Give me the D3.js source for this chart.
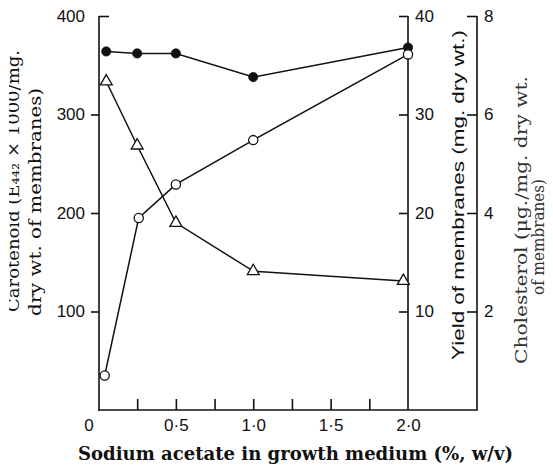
<!DOCTYPE html>
<html><head><meta charset="utf-8">
<script src="https://cdn.jsdelivr.net/npm/d3@7"></script>
<style>
html,body{margin:0;padding:0;background:#fff;}
svg{display:block;}
</style></head>
<body>
<svg id="chart" width="553" height="469"></svg>
<script>
// ---- data ----
const acetate = [0.05, 0.25, 0.5, 1.0, 2.0];           // % w/v
const carotenoid = [364, 362, 362, 338, 368];          // E442 x 1000 / mg (filled circles, left axis)
const yieldX = [0.04, 0.26, 0.5, 1.0, 2.0];
const yieldMg = [3.5, 19.5, 22.9, 27.4, 36.1];         // mg dry wt (open circles)
const cholX = [0.05, 0.25, 0.5, 1.0, 1.97];
const cholesterol = [6.67, 5.37, 3.8, 2.82, 2.62];     // ug/mg (triangles)
const xTickLabels = ["0", "0·5", "1·0", "1·5", "2·0"];
const xTickValues = [0, 0.5, 1.0, 1.5, 2.0];
const xMinorTicks = [0.25, 0.5, 0.75, 1.0, 1.25, 1.5, 1.75];
const leftTicks = [100, 200, 300, 400];
const yieldTicks = [10, 20, 30, 40];
const cholTicks = [2, 4, 6, 8];

const svg = d3.select("#chart");
const x = d3.scaleLinear().domain([0, 2]).range([98.5, 408]);
const yL = d3.scaleLinear().domain([0, 400]).range([410, 16]);
const yY = d3.scaleLinear().domain([0, 40]).range([410, 16]);
const yC = d3.scaleLinear().domain([0, 8]).range([410, 16]);

const tickFont = "'Liberation Sans', Arial, sans-serif";
const serif = "'DejaVu Serif', serif";
const ink = "#111";

// axis frame lines
const axisG = svg.append("g").attr("stroke", ink).attr("stroke-width", 1.6).attr("fill", "none");
axisG.append("line").attr("x1", 99).attr("x2", 99).attr("y1", yL(400)).attr("y2", 410.8);
axisG.append("line").attr("x1", 98.2).attr("x2", 477.8).attr("y1", 410).attr("y2", 410);
axisG.append("line").attr("x1", 408).attr("x2", 408).attr("y1", yY(40)).attr("y2", 410);
axisG.append("line").attr("x1", 477).attr("x2", 477).attr("y1", yC(8)).attr("y2", 410);

// left axis
const gl = svg.append("g").attr("transform", "translate(99,0)")
  .call(d3.axisLeft(yL).tickValues(leftTicks).tickSize(8).tickPadding(6).tickFormat(d3.format("d")));
gl.select(".domain").remove();
gl.selectAll(".tick line").attr("stroke", ink).attr("stroke-width", 1.6)
  .filter(d => d === 400).attr("x2", 10);
gl.selectAll(".tick text").attr("font-family", tickFont).attr("font-size", 17).attr("fill", ink);

// bottom axis (minor ticks pointing up, labels at major positions)
const gb = svg.append("g").attr("transform", "translate(0,410)")
  .call(d3.axisTop(x).tickValues(xMinorTicks).tickSize(11).tickFormat(""));
gb.select(".domain").remove();
gb.selectAll(".tick line").attr("stroke", ink).attr("stroke-width", 1.6);
const gbl = svg.append("g").attr("transform", "translate(0,410)")
  .call(d3.axisBottom(x).tickValues(xTickValues).tickSize(0).tickPadding(9)
    .tickFormat((d, i) => xTickLabels[i]));
gbl.select(".domain").remove();
gbl.selectAll(".tick text").attr("font-family", tickFont).attr("font-size", 17).attr("fill", ink)
  .attr("dx", (d, i) => i === 0 ? -10 : 0);

// yield axis
const gy = svg.append("g").attr("transform", "translate(408,0)")
  .call(d3.axisLeft(yY).tickValues(yieldTicks).tickSize(9).tickFormat(d3.format("d")));
gy.select(".domain").remove();
gy.selectAll(".tick line").attr("stroke", ink).attr("stroke-width", 1.6);
gy.selectAll(".tick text").attr("font-family", tickFont).attr("font-size", 17).attr("fill", ink)
  .attr("x", 7).attr("text-anchor", "start").attr("dy", "0.32em");

// cholesterol axis
const gc = svg.append("g").attr("transform", "translate(477,0)")
  .call(d3.axisLeft(yC).tickValues(cholTicks).tickSize(10).tickFormat(d3.format("d")));
gc.select(".domain").remove();
gc.selectAll(".tick line").attr("stroke", ink).attr("stroke-width", 1.6);
gc.selectAll(".tick text").attr("font-family", tickFont).attr("font-size", 17).attr("fill", ink)
  .attr("x", 7).attr("text-anchor", "start").attr("dy", "0.32em");

// series lines
const line = (xs, ys, xsc, ysc) => d3.line()(xs.map((v, i) => [xsc(v), ysc(ys[i])]));
svg.append("path").attr("d", line(acetate, carotenoid, x, yL))
  .attr("fill", "none").attr("stroke", ink).attr("stroke-width", 1.5);
svg.append("path").attr("d", line(yieldX, yieldMg, x, yY))
  .attr("fill", "none").attr("stroke", ink).attr("stroke-width", 1.5);
svg.append("path").attr("d", line(cholX, cholesterol, x, yC))
  .attr("fill", "none").attr("stroke", ink).attr("stroke-width", 1.5);

// markers
svg.append("g").selectAll("circle").data(acetate).join("circle")
  .attr("cx", d => x(d)).attr("cy", (d, i) => yL(carotenoid[i])).attr("r", 4.6)
  .attr("fill", ink).attr("stroke", ink).attr("stroke-width", 0.8);
svg.append("g").selectAll("circle").data(yieldX).join("circle")
  .attr("cx", d => x(d)).attr("cy", (d, i) => yY(yieldMg[i])).attr("r", 4.6)
  .attr("fill", "#fff").attr("stroke", ink).attr("stroke-width", 1.3);
const tri = d3.symbol().type(d3.symbolTriangle).size(62);
svg.append("g").selectAll("path").data(cholX).join("path")
  .attr("d", tri)
  .attr("transform", (d, i) => `translate(${x(d)},${yC(cholesterol[i])})`)
  .attr("fill", "#fff").attr("stroke", ink).attr("stroke-width", 1.3);

// clip to mimic the cropped left edge of the scanned title
svg.append("clipPath").attr("id", "leftcrop")
  .append("rect").attr("x", 9).attr("y", 0).attr("width", 60).attr("height", 469);

// axis titles
function vtext(cx, cy, txt, opts) {
  const g = svg.append("g");
  if (opts.clip) g.attr("clip-path", opts.clip);
  const t = g.append("text")
    .attr("transform", `translate(${cx},${cy}) rotate(-90)`)
    .attr("text-anchor", opts.anchor || "middle")
    .attr("font-family", opts.family).attr("font-size", opts.size)
    .attr("fill", opts.fill || ink)
    .text(txt);
  if (opts.len) t.attr("textLength", opts.len).attr("lengthAdjust", opts.adjust || "spacingAndGlyphs");
  return t;
}
vtext(19, 312, "Carotenoid (E₄₄₂ × 1000/mg.", {family: serif, size: 17, anchor: "start", len: 262, clip: "url(#leftcrop)"});
vtext(41, 316, "dry wt. of membranes)", {family: serif, size: 17, anchor: "start", len: 228});
vtext(464, 195, "Yield of membranes (mg. dry wt.)", {family: tickFont, size: 16, len: 330});
vtext(527, 220, "Cholesterol (μg./mg. dry wt.", {family: serif, size: 17.5, fill: "#333", len: 288});
vtext(544, 237, "of membranes)", {family: serif, size: 17.5, fill: "#333", len: 116});

svg.append("text").attr("x", 295.5).attr("y", 460).attr("text-anchor", "middle")
  .attr("font-family", serif).attr("font-size", 18).attr("font-weight", "bold").attr("fill", ink)
  .attr("textLength", 435).attr("lengthAdjust", "spacingAndGlyphs")
  .text("Sodium acetate in growth medium (%, w/v)");
</script>
</body></html>
